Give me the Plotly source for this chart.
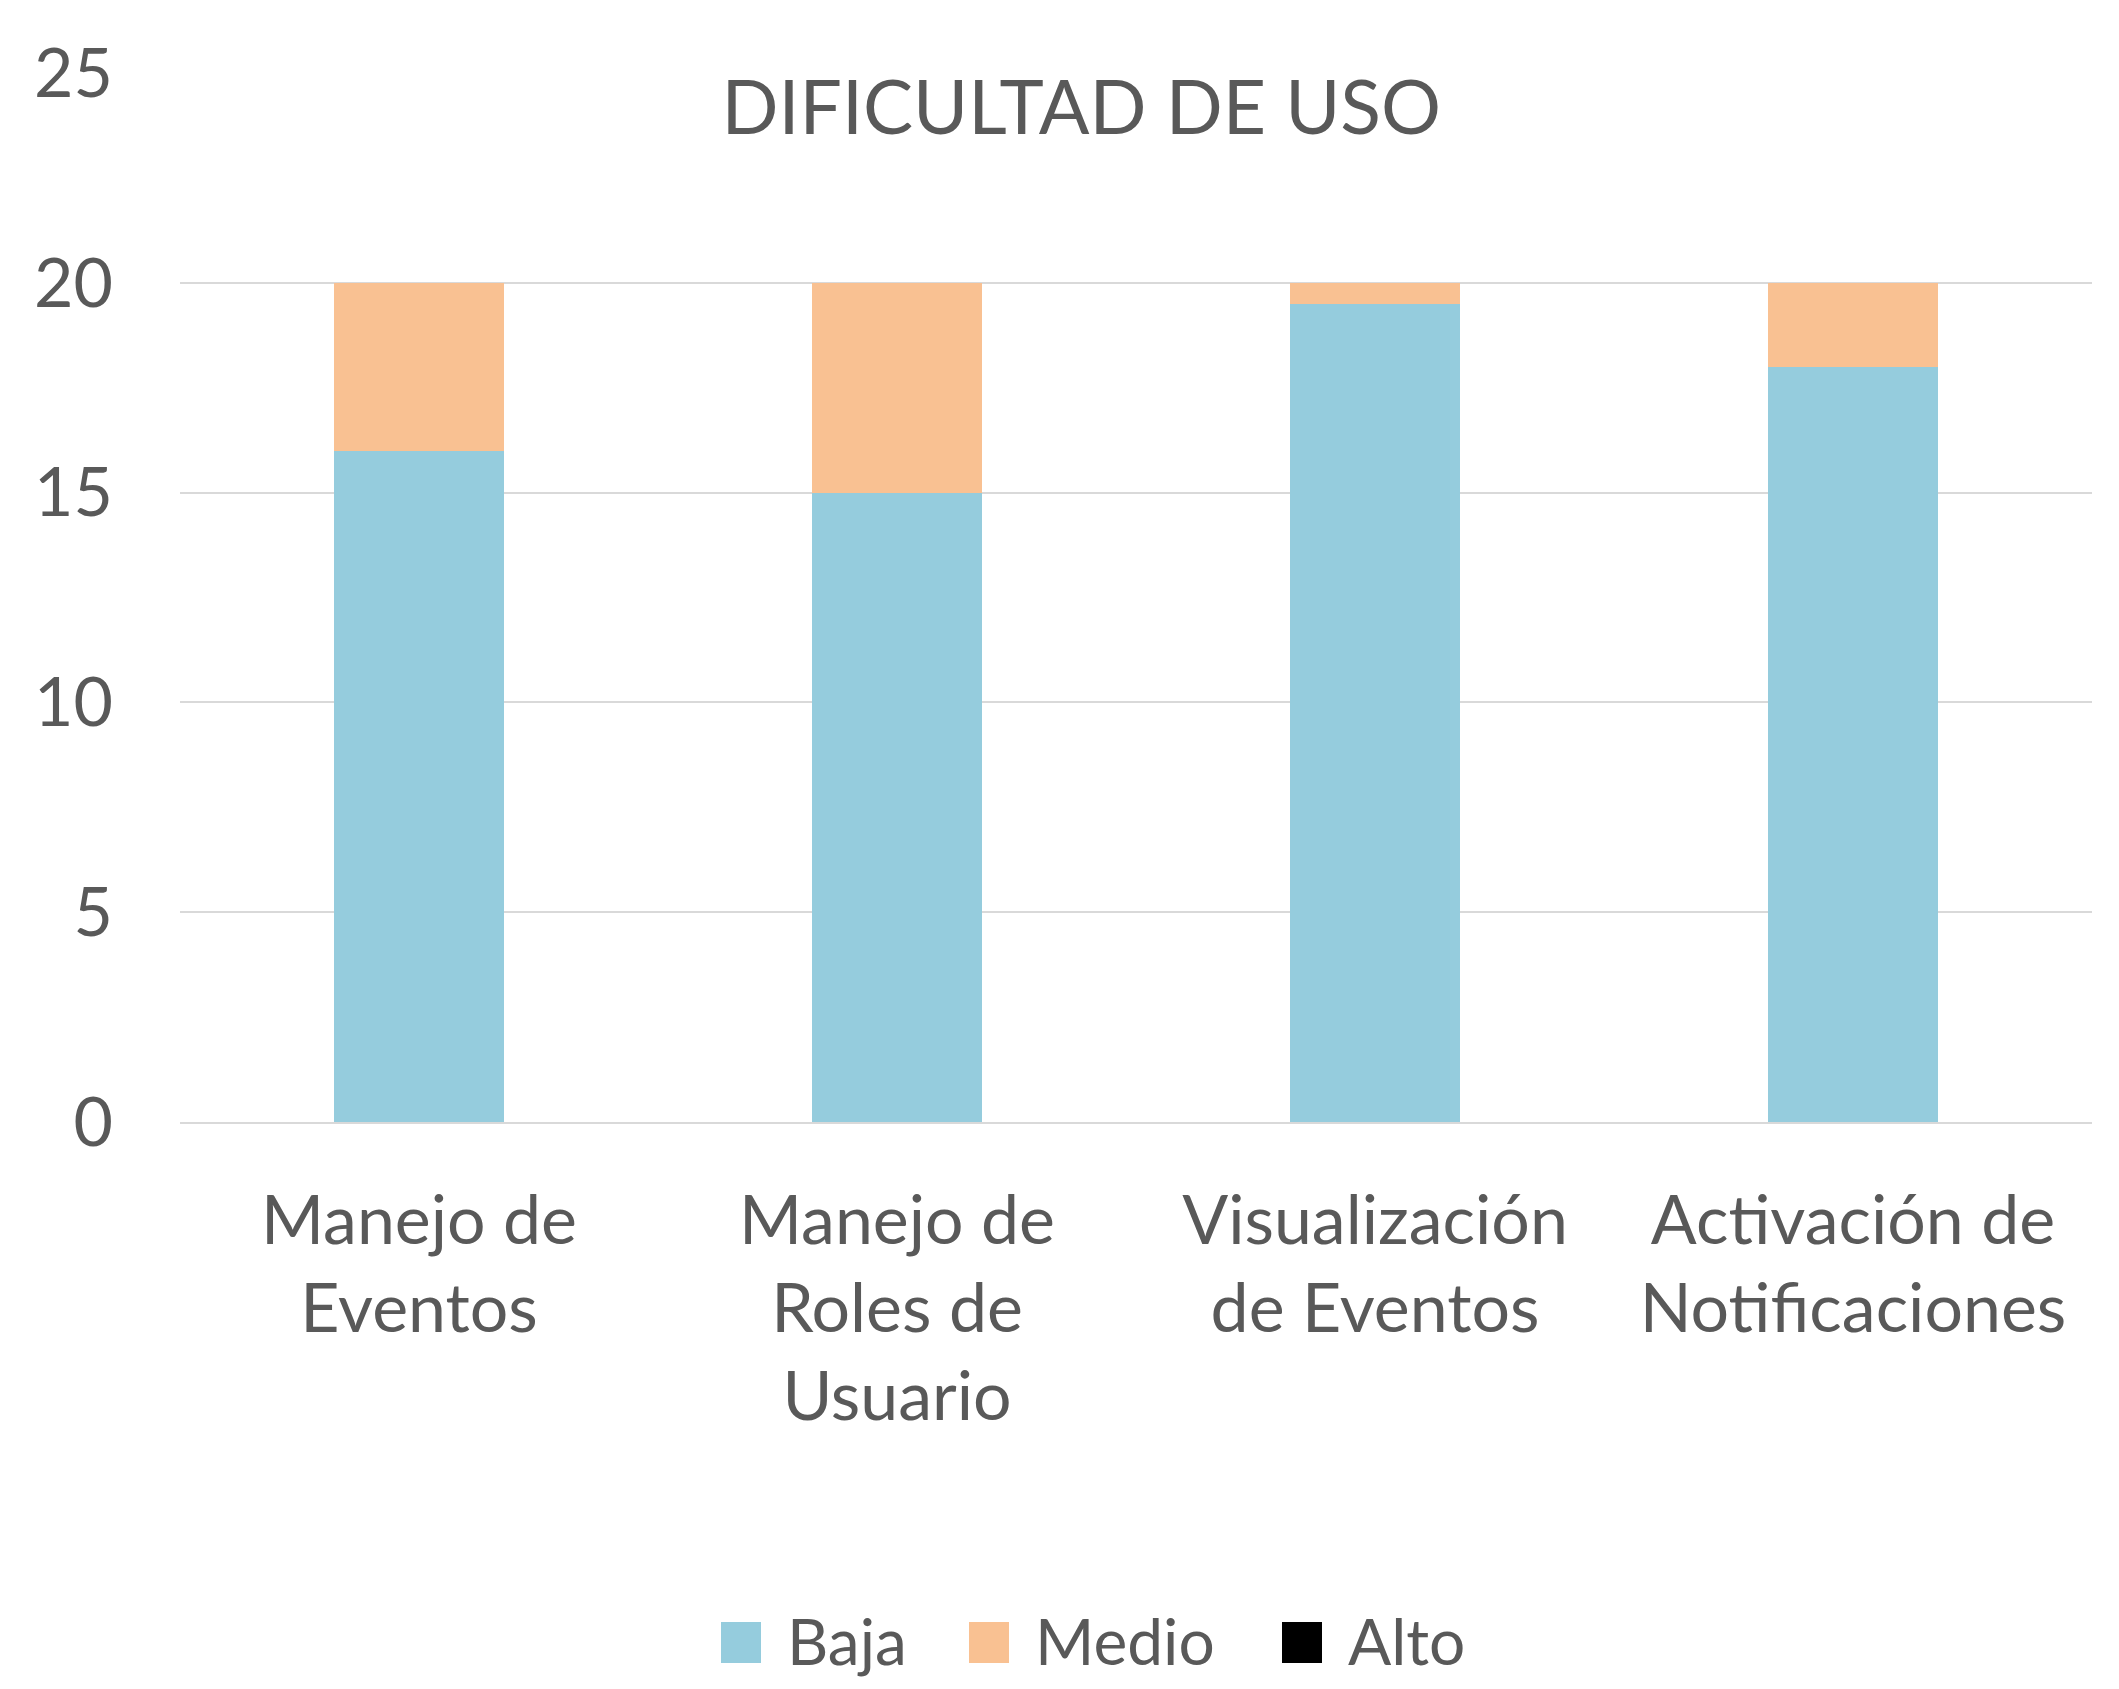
import plotly.graph_objects as go

categories = ["Manejo de<br>Eventos", "Manejo de<br>Roles de<br>Usuario", "Visualización<br>de Eventos", "Activación de<br>Notificaciones"]
series_names = ["Baja", "Medio", "Alto"]
series_colors = ["#95CCDD", "#F9C192", "#000000"]
baja = [16, 15, 19.5, 18]
medio = [4, 5, 0.5, 2]
alto = [0, 0, 0, 0]

FONT = "Lato"
GRAY = "#595959"
W, H = 2119, 1689
L, R, T, B = 172, 35, 65, 575
PW, PH = W - L - R, H - T - B
OFF = 8  # page body margin

fig = go.Figure()
for name, color, vals in zip(series_names, series_colors, [baja, medio, alto]):
    fig.add_trace(go.Bar(name=name, x=categories, y=vals,
                         marker=dict(color=color, line=dict(width=0)), showlegend=False))

# manual legend (large square swatches like the original)
def px2paper(x, y):
    x -= OFF
    y -= OFF
    return (x - L) / PW, (H - B - y) / PH

legend_x = [721, 969, 1282]
sq_w, sq_top, sq_bot = 40, 1622, 1663
shapes, annotations = [], []
for name, color, lx in zip(series_names, series_colors, legend_x):
    x0, y0 = px2paper(lx, sq_bot)
    x1, y1 = px2paper(lx + sq_w, sq_top)
    shapes.append(dict(type="rect", xref="paper", yref="paper", x0=x0, x1=x1, y0=y0, y1=y1,
                       fillcolor=color, line=dict(width=0), layer="above"))
    tx, ty = px2paper(lx + sq_w + 24, 1640)
    annotations.append(dict(text=name, xref="paper", yref="paper", x=tx, y=ty,
                            xanchor="left", yanchor="middle", showarrow=False,
                            font=dict(family=FONT, size=64, color=GRAY)))

fig.update_layout(
    barmode="stack",
    bargap=0.646,
    width=W, height=H,
    margin=dict(l=L, r=R, t=T, b=B, autoexpand=False),
    paper_bgcolor="white", plot_bgcolor="white",
    font=dict(family=FONT, color=GRAY, size=68),
    title=dict(text="DIFICULTAD DE USO", x=0.5065, xanchor="center", y=0.941, yanchor="middle",
               xref="container", yref="container", font=dict(family=FONT, size=75, color=GRAY)),
    showlegend=False,
    shapes=shapes,
    annotations=annotations,
)
fig.update_yaxes(range=[0, 25], dtick=5, showgrid=True, gridcolor="#D9D9D9", gridwidth=2,
                 zeroline=False, showline=False, ticks="", ticklabelstandoff=66,
                 tickfont=dict(size=68, color=GRAY))
fig.update_xaxes(showline=True, linecolor="#D9D9D9", linewidth=2, ticks="", showgrid=False,
                 tickfont=dict(size=68, color=GRAY), ticklabelstandoff=38)

fig.write_html("out.html")
